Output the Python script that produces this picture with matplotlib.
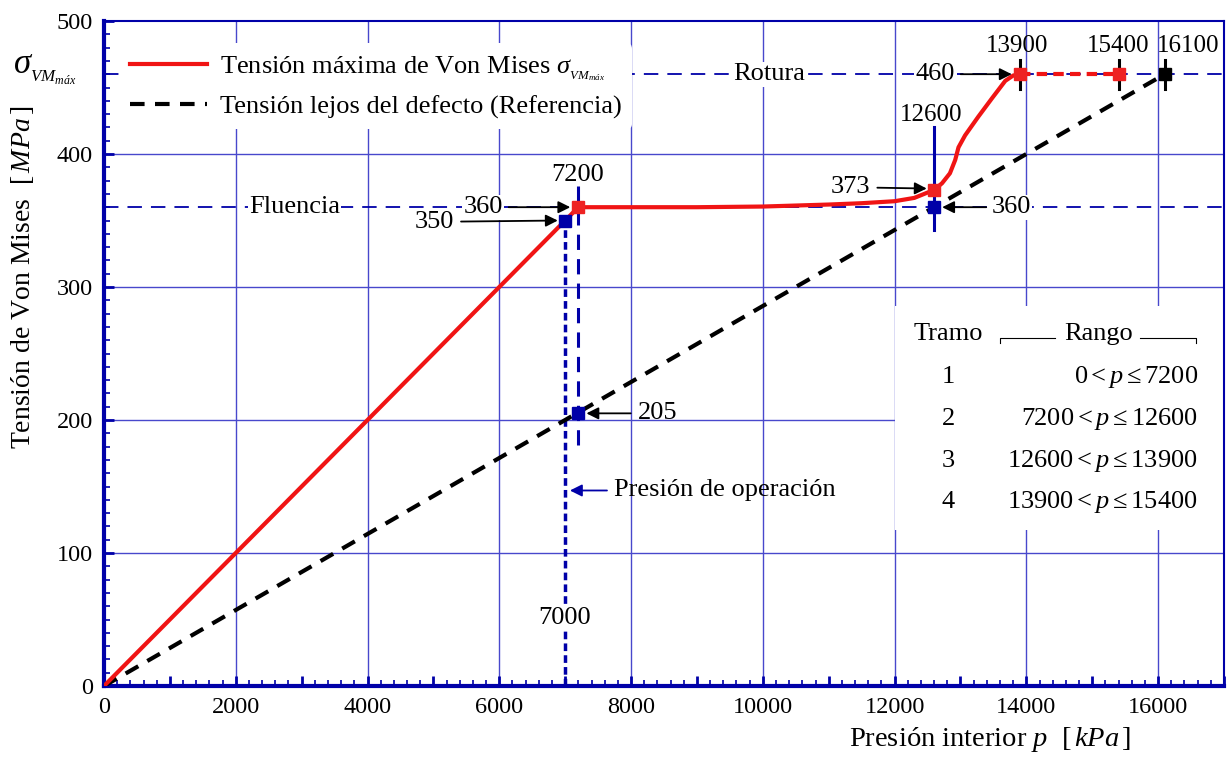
import matplotlib
matplotlib.use("Agg")
import matplotlib.pyplot as plt
from matplotlib.ticker import MultipleLocator, FuncFormatter

plt.rcParams["font.family"] = ["Liberation Serif", "DejaVu Serif"]
plt.rcParams["mathtext.fontset"] = "custom"
plt.rcParams["mathtext.rm"] = "Liberation Serif"
plt.rcParams["mathtext.it"] = "Liberation Serif:italic"

# tensión máxima de Von Mises (curva roja)
p_vm = [0, 7000, 7200, 8000, 9000, 10000, 11000, 11500, 12000, 12300, 12600,
        12720, 12840, 12920, 12970, 13070, 13270, 13480, 13680, 13800, 13900]
s_vm = [0, 350, 360, 360, 360, 360.5, 362, 363, 364.5, 367, 373,
        378, 385.5, 395.5, 405, 414, 428, 442, 455, 459, 460]
# tramo 4 (rotura, discontinuo)
p_rot = [13900, 15400]
s_rot = [460, 460]
# referencia lejos del defecto
p_ref = [0, 16100]
s_ref = [0, 460]

# puntos marcados
p_blue = [7000, 7200, 12600]
s_blue = [350, 205, 360]
p_red = [7200, 12600, 13900, 15400]
s_red = [360, 373, 460, 460]
p_blk = [16100]
s_blk = [460]

s_fluencia = 360
s_rotura = 460
p_oper = 7000

tramos = ["1", "2", "3", "4"]
rangos = [r"$0 < p \leq 7200$", r"$7200 < p \leq 12600$",
          r"$12600 < p \leq 13900$", r"$13900 < p \leq 15400$"]

BLUE = "#0000a8"
GRID = "#4848cc"

fig = plt.figure(figsize=(12.29, 7.58), dpi=100)
ax = fig.add_axes([104 / 1229, 72 / 758, 1120 / 1229, 665 / 758])
ax.set_xlim(0, 17000)
ax.set_ylim(0, 500)

# rejilla
for gx in range(2000, 17000, 2000):
    ax.axvline(gx, color=GRID, lw=1.0, zorder=0)
for gy in range(100, 500, 100):
    ax.axhline(gy, color=GRID, lw=1.0, zorder=0)

# recuadro blanco de la tabla
ax.fill_between([12000, 17000], 117, 286, color="white", zorder=1, lw=0)

# líneas de fluencia y rotura
ax.axhline(s_fluencia, color=BLUE, lw=1.3, dashes=(8, 5), zorder=2)
ax.axhline(s_rotura, color=BLUE, lw=1.3, dashes=(8, 5), zorder=2)

# verticales
ax.plot([p_oper, p_oper], [0, 350], color=BLUE, lw=2.5, dashes=(2.2, 1.2), zorder=3)
ax.plot([7200, 7200], [181, 376], color=BLUE, lw=2.2, dashes=(5, 3), zorder=3)
ax.plot([12600, 12600], [343, 420], color=BLUE, lw=2.2, zorder=3)
for px in (13900, 15400, 16100):
    ax.plot([px, px], [449, 471], color="k", lw=2.2, zorder=3)

# curvas
ax.plot(p_vm, s_vm, color="#f01414", lw=3, zorder=5,
        label=r"Tensión máxima de Von Mises $\sigma_{_{VM_{máx}}}$")
ax.plot(p_ref, s_ref, color="k", lw=3, dashes=(3.5, 2.5), zorder=4,
        label="Tensión lejos del defecto (Referencia)")
ax.plot(p_rot, s_rot, color="#f01414", lw=3, dashes=(2.5, 1.5), zorder=5)

ax.plot(p_blue, s_blue, "s", color=BLUE, ms=8, zorder=6)
ax.plot(p_red, s_red, "s", color="#ee2222", ms=8, zorder=6)
ax.plot(p_blk, s_blk, "s", color="k", ms=8, zorder=6)

# textos y flechas
fs = 19
wb = dict(fc="white", ec="none", pad=1)
arr = dict(arrowstyle="-|>", color="k", lw=1.3, mutation_scale=18, shrinkA=3, shrinkB=2)

ax.text(2894, 360, "Fluencia", fontsize=fs, ha="center", va="center", bbox=wb, zorder=7)
ax.text(10090, 460, "Rotura", fontsize=fs, ha="center", va="center", bbox=wb, zorder=7)
ax.annotate("350", xy=(6930, 350), xytext=(5015, 349), fontsize=fs, ha="center",
            va="center", arrowprops=arr, zorder=7)
ax.annotate("360", xy=(7120, 360), xytext=(5760, 360), fontsize=fs, ha="center",
            va="center", bbox=wb, arrowprops=arr, zorder=7)
ax.text(7182, 384, "7200", fontsize=fs, ha="center", va="center", zorder=7)
ax.annotate("205", xy=(7280, 205), xytext=(8400, 205), fontsize=fs, ha="center",
            va="center", arrowprops=arr, zorder=7)
ax.annotate("Presión de operación", xy=(7030, 147), xytext=(7740, 147), fontsize=fs,
            ha="left", va="center",
            arrowprops=dict(arr, color=BLUE), zorder=7)
ax.text(6985, 51, "7000", fontsize=fs, ha="center", va="center", bbox=wb, zorder=7)
ax.text(12560, 429, "12600", fontsize=fs - 1, ha="center", va="center", zorder=7)
ax.annotate("373", xy=(12530, 374), xytext=(11333, 375), fontsize=fs, ha="center",
            va="center", arrowprops=arr, zorder=7)
ax.annotate("360", xy=(12680, 360), xytext=(13773, 360), fontsize=fs, ha="center",
            va="center", bbox=wb, arrowprops=arr, zorder=7)
ax.annotate("460", xy=(13820, 460), xytext=(12621, 460), fontsize=fs, ha="center",
            va="center", bbox=wb, arrowprops=arr, zorder=7)
ax.text(13860, 481, "13900", fontsize=fs - 1, ha="center", va="center", zorder=7)
ax.text(15394, 481, "15400", fontsize=fs - 1, ha="center", va="center", zorder=7)
ax.text(16454, 481, "16100", fontsize=fs - 1, ha="center", va="center", zorder=7)

# tabla de tramos
ax.text(12818, 265, "Tramo", fontsize=fs, ha="center", va="center", zorder=7)
ax.text(15090, 265, "Rango", fontsize=fs, ha="center", va="center", zorder=7)
ax.plot([13606, 13606, 14440], [258, 262, 262], color="k", lw=0.8, zorder=7)
ax.plot([15727, 16576, 16576], [262, 262, 258], color="k", lw=0.8, zorder=7)
row_y = [232, 201, 169, 138]
for t, r, yy in zip(tramos, rangos, row_y):
    ax.text(12818, yy, t, fontsize=fs, ha="center", va="center", zorder=7)
    ax.text(16606, yy, r, fontsize=fs, ha="right", va="center", zorder=7)

# ejes
ax.xaxis.set_major_locator(MultipleLocator(1000))
ax.xaxis.set_minor_locator(MultipleLocator(200))
ax.xaxis.set_major_formatter(FuncFormatter(lambda v, _: f"{int(v)}" if v % 2000 == 0 else ""))
ax.yaxis.set_major_locator(MultipleLocator(100))
ax.yaxis.set_minor_locator(MultipleLocator(10))
ax.tick_params(which="both", direction="in", color=BLUE, labelsize=17.5, pad=8)
ax.tick_params(which="major", length=7, width=2)
ax.tick_params(which="minor", length=4, width=1.2)
for side in ("left", "bottom"):
    ax.spines[side].set_color(BLUE)
    ax.spines[side].set_linewidth(3)
for side in ("top", "right"):
    ax.spines[side].set_color(BLUE)
    ax.spines[side].set_linewidth(1.5)

leg = ax.legend(loc="upper left", bbox_to_anchor=(0.0, 0.99), fontsize=fs,
                frameon=True, framealpha=1, edgecolor="none", handlelength=2.9,
                handletextpad=0.5, labelspacing=0.45, borderaxespad=0.6)
leg.set_zorder(8)

fig.text(45 / 1229, 1 - 70 / 758, r"$\sigma_{_{VM_{máx}}}$", fontsize=25,
         ha="center", va="center")
fig.text(23 / 1229, 1 - 277 / 758, r"Tensión de Von Mises  $[\,MPa\,]$", fontsize=20,
         rotation=90, ha="center", va="center")
fig.text(990 / 1229, 1 - 740 / 758, r"Presión interior $p$  $[\,kPa\,]$", fontsize=20.5,
         ha="center", va="center")

fig.savefig("out.png", dpi=100)
